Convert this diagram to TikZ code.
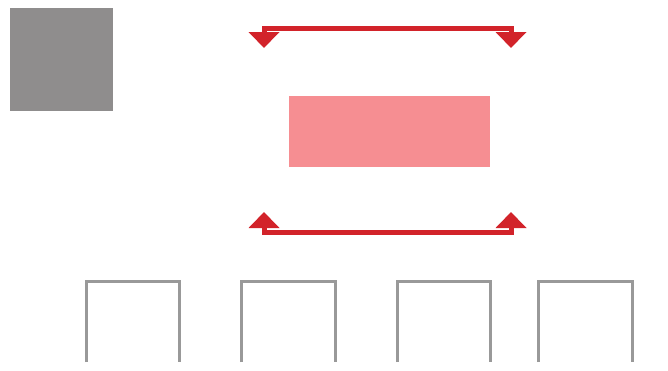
\documentclass[tikz,border=0pt]{standalone}
\usetikzlibrary{arrows.meta}
\definecolor{arrred}{HTML}{D2232A}
\definecolor{boxpink}{HTML}{F68E92}
\definecolor{sqgray}{HTML}{8F8D8D}
\definecolor{bingray}{HTML}{999999}
\begin{document}
\begin{tikzpicture}[x=1pt,y=-1pt,
  redarrow/.style={draw=arrred,line width=5pt,line join=miter,
    {Triangle[width=30pt,length=16pt]}-{Triangle[width=30pt,length=16pt]}},
  bin/.style={draw=bingray,line width=3pt}]
\useasboundingbox (0,0) rectangle (668,370);
\node[fill=sqgray,minimum width=103pt,minimum height=103pt,inner sep=0pt,anchor=north west] (sq) at (10,8) {};
\node[fill=boxpink,minimum width=201pt,minimum height=71pt,inner sep=0pt,anchor=north west] (pink) at (289,96) {};
\coordinate (t1) at (264,48);
\coordinate (t2) at (511,48);
\coordinate (b1) at (264,212);
\coordinate (b2) at (511,212);
\draw[redarrow] (t1) -- (264,28) -- (511,28) -- (t2);
\draw[redarrow] (b1) -- (264,232) -- (511,232) -- (b2);
\foreach \l/\r [count=\i] in {86/179,241/335,397/490,538/632}{
  \draw[bin] (\l,362) -- (\l,281) -- (\r,281) -- (\r,362);
}
\end{tikzpicture}
\end{document}
